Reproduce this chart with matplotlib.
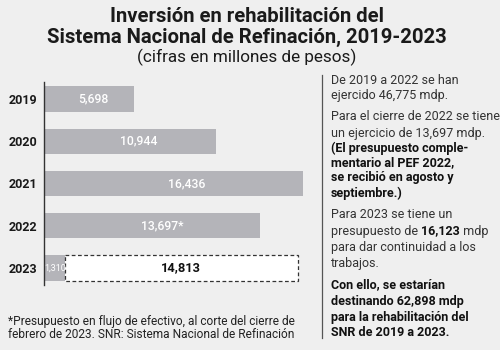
import matplotlib
matplotlib.use("Agg")
import matplotlib.pyplot as plt

years = ["2019", "2020", "2021", "2022", "2023"]
values = [5698, 10944, 16436, 13697, 1310]
value_labels = ["5,698", "10,944", "16,436", "13,697*", "1,310"]
budget_2023 = 14813
budget_label = "14,813"

BG = "#efefef"
BAR = "#b4b4b9"
FONT = "Roboto"

fig = plt.figure(figsize=(5, 3.5), dpi=100, facecolor=BG)
W, H = 500, 350

def fx(px):
    return px / W
def fy(py):
    return 1 - py / H

# Title
fig.text(fx(247), fy(17), "Inversión en rehabilitación del", ha="center", va="center",
         fontsize=14.6, fontweight="bold", family=FONT, color="#1a1a1a")
fig.text(fx(247), fy(37), "Sistema Nacional de Refinación, 2019-2023", ha="center", va="center",
         fontsize=14.6, fontweight="bold", family=FONT, color="#1a1a1a")
fig.text(fx(247), fy(57), "(cifras en millones de pesos)", ha="center", va="center",
         fontsize=12.3, family=FONT, color="#1a1a1a")

# Bar chart axes
ax_left, ax_right, ax_top, ax_bot = 44, 310, 82, 285
ax = fig.add_axes([fx(ax_left), fy(ax_bot), (ax_right - ax_left) / W, (ax_bot - ax_top) / H])
ax.set_facecolor(BG)
xmax = 16436 * (ax_right - ax_left) / (303 - ax_left)
ax.set_xlim(0, xmax)
ax.set_ylim(4.4, -0.4)
pos = list(range(len(years)))
ax.barh(pos, values, height=0.6, color=BAR, edgecolor="none")
ax.barh([4], [budget_2023], left=[values[4]], height=0.6, color="white",
        edgecolor="#333333", linestyle=(0, (3, 2)), linewidth=0.9)
for s in ["top", "right", "bottom"]:
    ax.spines[s].set_visible(False)
ax.spines["left"].set_color("#333333")
ax.spines["left"].set_linewidth(1.0)
ax.set_xticks([])
ax.set_yticks(pos)
ax.set_yticklabels(years, fontsize=9, fontweight="bold", family=FONT, color="#1a1a1a")
ax.tick_params(axis="y", length=0, pad=5)

for i in range(4):
    ax.text(values[i] * 0.55, i, value_labels[i], ha="center", va="center",
            fontsize=8.8, color="white", family=FONT, fontweight="medium")
ax.text(values[4] / 2 + 50, 4, value_labels[4], ha="center", va="center",
        fontsize=6.5, color="white", family=FONT)
ax.text(values[4] + budget_2023 / 2, 4, budget_label, ha="center", va="center",
        fontsize=9.3, fontweight="bold", color="#111111", family=FONT)

# Footnote
fig.text(fx(8), fy(321), "*Presupuesto en flujo de efectivo, al corte del cierre de",
         ha="left", va="center", fontsize=8.6, family=FONT, color="#222222")
fig.text(fx(8), fy(335), "febrero de 2023. SNR: Sistema Nacional de Refinación",
         ha="left", va="center", fontsize=8.6, family=FONT, color="#222222")

# Separator
fig.add_artist(plt.Line2D([fx(322), fx(322)], [fy(75), fy(338)], color="#555555", lw=0.9))

# Right column
x0 = 331
lines = [
    (81, [("De 2019 a 2022 se han", "normal")]),
    (96, [("ejercido 46,775 mdp.", "normal")]),
    (117, [("Para el cierre de 2022 se tiene", "normal")]),
    (133, [("un ejercicio de 13,697 mdp.", "normal")]),
    (148, [("(El presupuesto comple-", "bold")]),
    (163, [("mentario al PEF 2022,", "bold")]),
    (178, [("se recibió en agosto y", "bold")]),
    (193, [("septiembre.)", "bold")]),
    (215, [("Para 2023 se tiene un", "normal")]),
    (231, [("presupuesto de ", "normal"), ("16,123", "bold"), (" mdp", "normal")]),
    (247, [("para dar continuidad a los", "normal")]),
    (263, [("trabajos.", "normal")]),
    (285, [("Con ello, se estarían", "bold")]),
    (301, [("destinando 62,898 mdp", "bold")]),
    (317, [("para la rehabilitación del", "bold")]),
    (332, [("SNR de 2019 a 2023.", "bold")]),
]
fig.canvas.draw()
renderer = fig.canvas.get_renderer()
for y, parts in lines:
    xp = x0
    for txt, wt in parts:
        col = "#111111" if wt == "bold" else "#333333"
        t = fig.text(fx(xp), fy(y), txt, ha="left", va="center", fontsize=9,
                     fontweight=wt, family=FONT, color=col)
        bb = t.get_window_extent(renderer=renderer)
        xp += bb.width

fig.savefig("out.png", dpi=100, facecolor=BG)
